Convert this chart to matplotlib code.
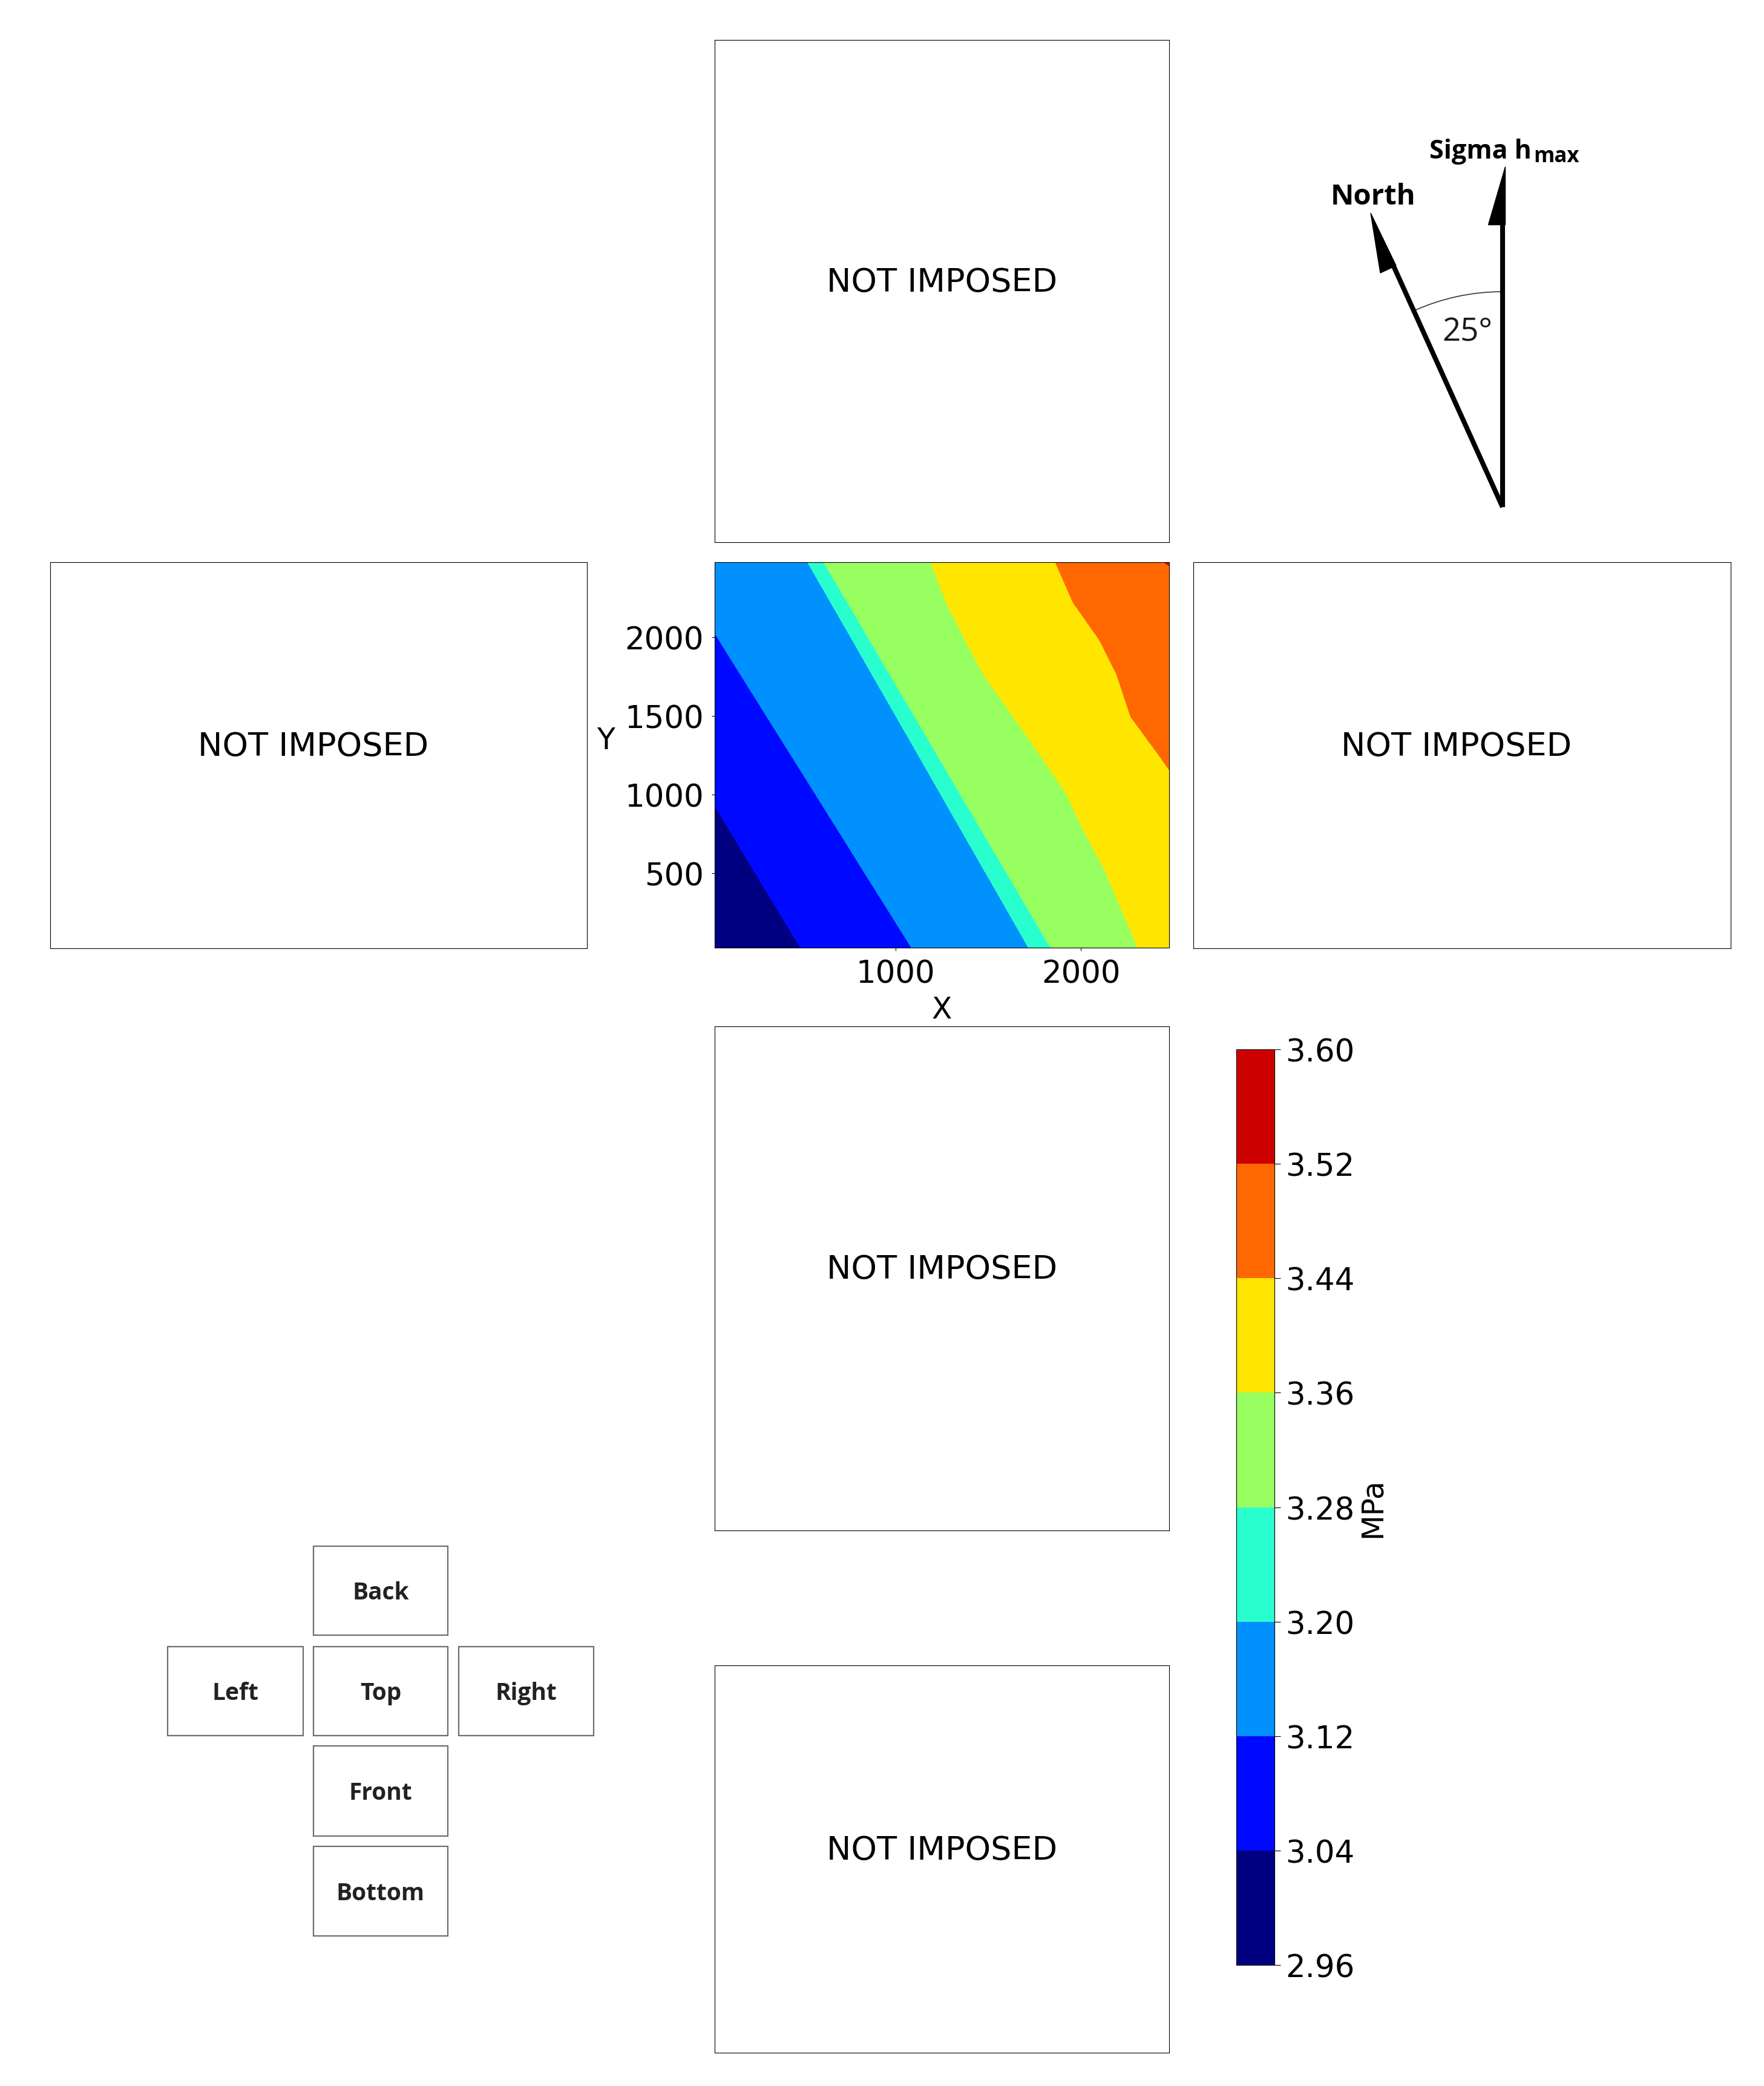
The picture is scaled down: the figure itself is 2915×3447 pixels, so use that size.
import matplotlib
matplotlib.use("Agg")
import matplotlib.pyplot as plt
import numpy as np
from matplotlib.colors import Normalize
from matplotlib.patches import Rectangle, Polygon, Arc

# ---------------- data ----------------
# stress levels of the filled contours (MPa)
levels_mpa = [2.96, 3.04, 3.12, 3.20, 3.28, 3.36, 3.44, 3.52, 3.60]
# y positions of the rows along which isoline crossings were read
row_y = [25, 515, 770, 1005, 1250, 1495, 1762, 1985, 2220, 2475]
# x position where the stress equals each level, on each row
iso_296 = [-92, -344, -474, -595, -721, -846, -983, -1098, -1218, -1349]
iso_304 = [488, 236, 106, -15, -141, -266, -403, -518, -638, -769]
iso_312 = [1086, 826, 691, 566, 436, 306, 164, 46, -79, -214]
iso_320 = [1717, 1479, 1355, 1241, 1122, 1003, 873, 765, 650, 526]
iso_328 = [1836, 1592, 1464, 1347, 1225, 1103, 969, 858, 741, 613]
iso_336 = [2306, 2129, 2014, 1920, 1779, 1634, 1473, 1373, 1273, 1189]
iso_344 = [3055, 2810, 2683, 2565, 2419, 2267, 2192, 2097, 1957, 1862]
iso_352 = [4300, 4000, 3820, 3700, 3560, 3400, 3200, 3010, 2800, 2445]
iso_360 = [5000, 4700, 4600, 4400, 4250, 4100, 3900, 3700, 3400, 3030]

x_ticks = [1000, 2000]
y_ticks = [500, 1000, 1500, 2000]
face_names = ["Back", "Left", "Top", "Right", "Front", "Bottom"]
angle_label = "25°"

# ---------------- figure ----------------
W, H = 2915, 3448
fig = plt.figure(figsize=(W / 100, H / 100), dpi=100)
FS_TXT = 39
FS_TICK = 37
FS_LAB = 35


def px_axes(x0, y0, x1, y1):
    return fig.add_axes([x0 / W, 1 - y1 / H, (x1 - x0) / W, (y1 - y0) / H])


# empty "NOT IMPOSED" faces
for box, tx in [((1181, 67, 1932, 897), 0.5),     # back (top)
                ((83, 930, 970, 1568), 0.49),     # left
                ((1972, 930, 2860, 1568), 0.49),  # right
                ((1181, 1697, 1932, 2530), 0.5),  # front
                ((1181, 2753, 1932, 3393), 0.5)]: # bottom
    a = px_axes(*box)
    a.set_xticks([])
    a.set_yticks([])
    a.text(tx, 0.5, "NOT IMPOSED", ha="center", va="baseline",
           fontsize=FS_TXT, transform=a.transAxes)

# top face: contour map
ax = px_axes(1181, 930, 1932, 1567)
iso = [iso_296, iso_304, iso_312, iso_320, iso_328, iso_336, iso_344, iso_352, iso_360]
X = np.array(iso, dtype=float).T
Y = np.repeat(np.array(row_y, dtype=float)[:, None], len(levels_mpa), axis=1)
Z = np.tile(np.array(levels_mpa), (len(row_y), 1))
cs = ax.contourf(X, Y, Z, levels=levels_mpa, cmap="jet",
                 norm=Normalize(vmin=3.00, vmax=3.60))
ax.set_xlim(25, 2475)
ax.set_ylim(25, 2475)
ax.set_xticks(x_ticks)
ax.set_yticks(y_ticks)
ax.tick_params(labelsize=FS_TICK, pad=9.5)
ax.set_xlabel("X", fontsize=FS_LAB, labelpad=7)
ax.set_ylabel("Y", fontsize=FS_LAB, rotation=0, ha="right", labelpad=12)

# colorbar
cax = px_axes(2043, 1735, 2106, 3248)
cb = fig.colorbar(cs, cax=cax, ticks=levels_mpa)
cb.ax.set_yticklabels([f"{v:.2f}" for v in levels_mpa])
cb.ax.tick_params(labelsize=FS_TICK, length=7, pad=6)
cb.set_label("MPa", fontsize=FS_LAB)

# ---------------- overlay for the sketches ----------------
ov = fig.add_axes([0, 0, 1, 1])
ov.set_xlim(0, W)
ov.set_ylim(H, 0)
ov.axis("off")

LW = 5.8
ov.plot([2483, 2483], [839, 368], color="black", lw=LW, solid_capstyle="butt")
ov.add_patch(Polygon([(2487, 276), (2487, 372), (2459, 372)], closed=True,
                     facecolor="black", edgecolor="black", lw=1))
ov.plot([2483, 2303], [839, 441], color="black", lw=LW, solid_capstyle="butt")
ov.add_patch(Polygon([(2265, 353), (2307, 440), (2281, 452)], closed=True,
                     facecolor="black", edgecolor="black", lw=1))
ov.add_patch(Arc((2483, 839), 712, 712, theta1=245.7, theta2=270,
                 color="#444444", lw=1.3))
ov.text(2425, 564, angle_label, ha="center", va="baseline", fontsize=38,
        family="Open Sans", color="#1a1a1a")
ov.text(2199, 338, "North", ha="left", va="baseline", fontsize=34,
        family="Open Sans", fontweight="bold", color="black")
t_sig = ov.text(2362, 262, "Sigma h", ha="left", va="baseline", fontsize=31,
                family="Open Sans", fontweight="bold", color="black")
fig.canvas.draw()
bb = t_sig.get_window_extent(renderer=fig.canvas.get_renderer())
x_end = ov.transData.inverted().transform((bb.x1, bb.y0))[0]
ov.text(x_end + 3, 268, "max", ha="left", va="baseline", fontsize=25,
        family="Open Sans", fontweight="bold", color="black")

# face key
face_boxes = [(518, 2556, 740, 2703), (277, 2722, 501, 2869),
              (518, 2722, 740, 2869), (758, 2722, 981, 2869),
              (518, 2886, 740, 3035), (518, 3052, 740, 3200)]
for name, (x0, y0, x1, y1) in zip(face_names, face_boxes):
    ov.add_patch(Rectangle((x0, y0), x1 - x0, y1 - y0, fill=False,
                           edgecolor="#6e6e6e", lw=1.6))
    ov.text((x0 + x1) / 2, (y0 + y1) / 2 + 14, name, ha="center", va="baseline",
            fontsize=28, family="Open Sans", fontweight="bold", color="#222222")

fig.savefig("out.png", dpi=100)
